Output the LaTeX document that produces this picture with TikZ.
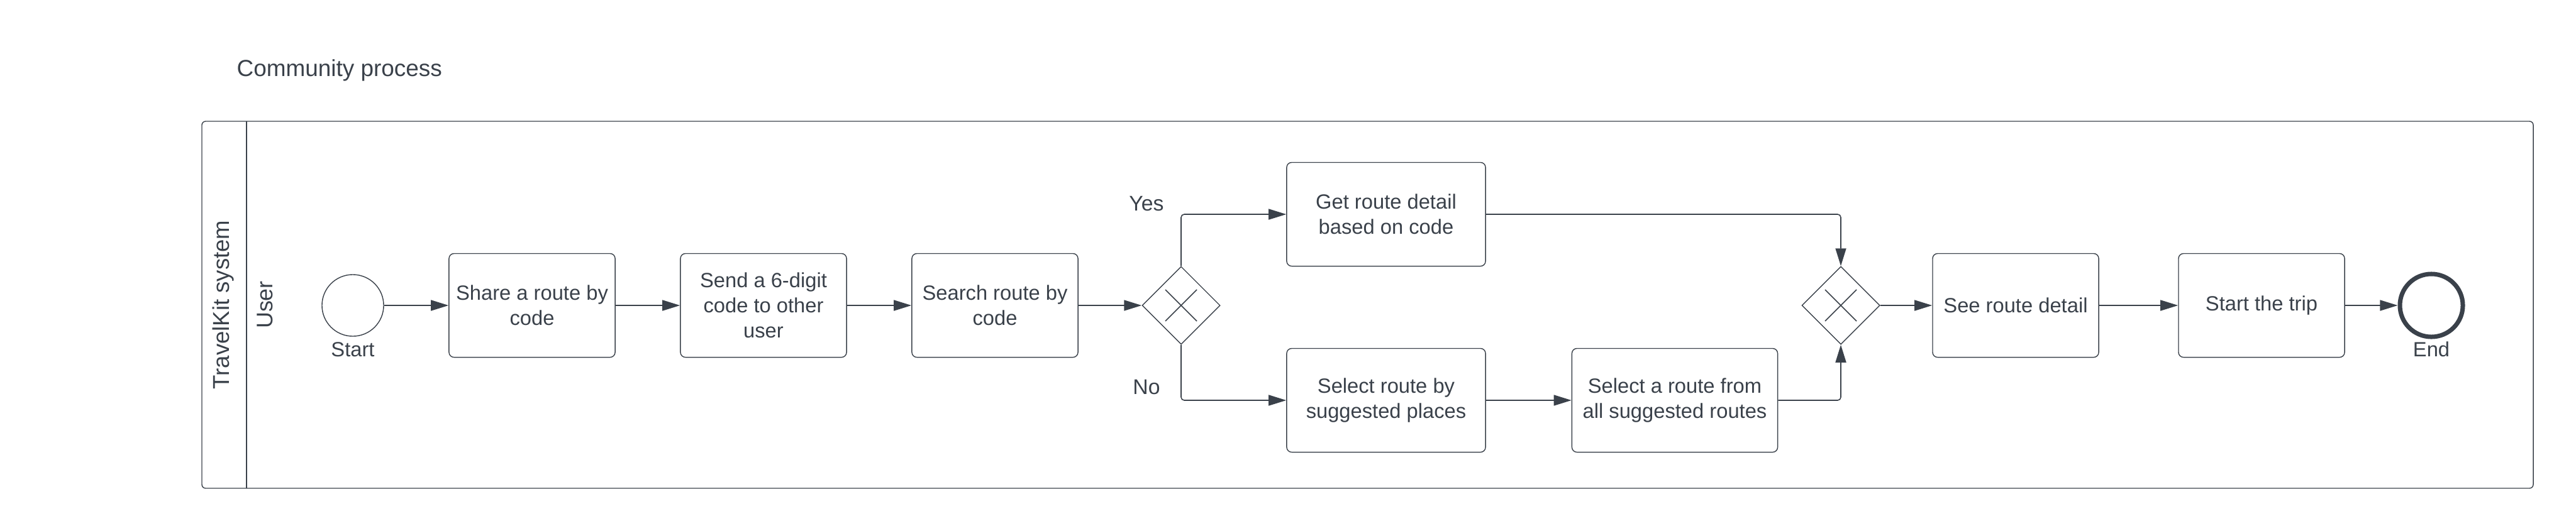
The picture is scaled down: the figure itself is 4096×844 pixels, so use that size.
\documentclass[tikz,border=0pt]{standalone}
\usepackage{fontspec}
\setmainfont{Liberation Sans}
\usetikzlibrary{arrows.meta, shapes.geometric}

\definecolor{lucid}{HTML}{3A414A}
\newcommand{\boxfont}{\fontsize{9.3pt}{11.4pt}\selectfont}
\tikzset{
  task/.style={draw=lucid, rounded corners=0.08cm, minimum height=1.65cm,
    align=center, text=lucid, font=\boxfont, inner sep=0},
  gate/.style={draw=lucid, diamond, minimum width=1.24cm, minimum height=1.24cm, inner sep=0},
  flow/.style={draw=lucid, line width=0.45pt, rounded corners=0.05cm,
    -{Triangle[length=0.28cm, width=0.17cm]}},
  lbl/.style={text=lucid, font=\boxfont},
}

\begin{document}
\begin{tikzpicture}[x=0.01cm, y=-0.01cm]
\useasboundingbox (0,0) rectangle (4096,844);

% プールとレーン
\node[anchor=west, inner sep=0, text=lucid, font=\fontsize{10.5pt}{12pt}\selectfont] (title) at (376,112) {Community process};
\draw[lucid, rounded corners=0.06cm] (321,193) rectangle (4028,777);
\draw[lucid] (392,193) -- (392,777);
\node[lbl, rotate=90, font=\fontsize{10.4pt}{12pt}\selectfont] (pool) at (355,485) {TravelKit system};
\node[lbl, rotate=90, font=\fontsize{10.2pt}{12pt}\selectfont] (lane) at (421,485) {User};

% イベント
\node[draw=lucid, circle, minimum size=0.98cm, inner sep=0] (start) at (561,486) {};
\node[draw=lucid, circle, line width=2pt, minimum size=1cm, inner sep=0] (end) at (3866,486) {};
\node[lbl] (startlbl) at (561,556) {Start};
\node[lbl] (endlbl) at (3866,556) {End};

% タスク
\foreach \name/\x/\y/\w/\txt in {
  share/846/486/2.64/{Share a route by\\code},
  send/1214/486/2.64/{Send a 6-digit\\code to other\\user},
  search/1582/486/2.64/{Search route by\\code},
  getdetail/2204/341/3.16/{Get route detail\\based on code},
  suggest/2204/637/3.16/{Select route by\\suggested places},
  pick/2663/637/3.27/{Select a route from\\all suggested routes},
  see/3205/486/2.64/{See route detail},
  trip/3596/486/2.64/{Start the trip}} {
  \node[task, minimum width=\w cm] (\name) at (\x,\y) {\txt};
}

% ゲートウェイ
\node[gate] (g1) at (1878,486) {};
\node[gate] (g2) at (2927,486) {};
\foreach \g in {g1, g2} {
  \draw[lucid, line width=0.45pt] (\g) ++(-25,-25) -- ++(50,50) (\g) ++(-25,25) -- ++(50,-50);
}
\node[lbl, font=\fontsize{9.6pt}{11.4pt}\selectfont] (yes) at (1823,324) {Yes};
\node[lbl, font=\fontsize{9.6pt}{11.4pt}\selectfont] (no) at (1823,616) {No};

% シーケンスフロー
\draw[flow] (start) -- (share);
\draw[flow] (share) -- (send);
\draw[flow] (send) -- (search);
\draw[flow] (search) -- (g1);
\draw[flow] (g1.north) |- (getdetail);
\draw[flow] (g1.south) |- (suggest);
\draw[flow] (suggest) -- (pick);
\draw[flow] (getdetail) -| (g2.north);
\draw[flow] (pick) -| (g2.south);
\draw[flow] (g2) -- (see);
\draw[flow] (see) -- (trip);
\draw[flow] (trip) -- (end);

\end{tikzpicture}
\end{document}
